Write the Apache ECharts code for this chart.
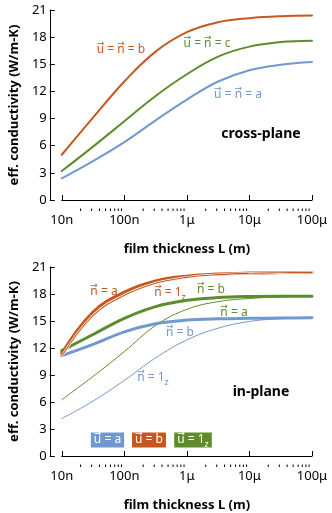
<!DOCTYPE html>
<html><head><meta charset="utf-8">
<script src="https://cdn.jsdelivr.net/npm/echarts@6/dist/echarts.min.js"></script>
<style>html,body{margin:0;padding:0;background:#fff}#c{width:332px;height:513px}</style>
</head><body><div id="c"></div>
<script>
// film thickness L (m), sampled at half decades
const thickness = [1e-8, 3.16e-8, 1e-7, 3.16e-7, 1e-6, 3.16e-6, 1e-5, 3.16e-5, 1e-4];
const xTickLabels = ['10n', '100n', '1μ', '10μ', '100μ'];
const minorTickValues = [2e-8,3e-8,4e-8,5e-8,6e-8,7e-8,8e-8,9e-8,
  2e-7,3e-7,4e-7,5e-7,6e-7,7e-7,8e-7,9e-7,
  2e-6,3e-6,4e-6,5e-6,6e-6,7e-6,8e-6,9e-6,
  2e-5,3e-5,4e-5,5e-5,6e-5,7e-5,8e-5,9e-5];

// cross-plane (u = n)
const crossB = [5.0, 9.1, 13.1, 16.4, 18.55, 19.65, 20.1, 20.32, 20.4];
const crossC = [3.2, 5.9, 8.7, 11.5, 13.9, 15.85, 16.95, 17.45, 17.6];
const crossA = [2.4, 4.3, 6.4, 8.8, 11.1, 13.1, 14.35, 14.95, 15.25];

// in-plane
const inB_nA  = [11.4, 16.0, 18.2, 19.45, 19.98, 20.22, 20.33, 20.38, 20.4];
const inB_n1z = [11.1, 15.6, 17.85, 19.2, 19.85, 20.15, 20.3, 20.36, 20.4];
const in1z_nB = [11.7, 13.5, 15.3, 16.6, 17.3, 17.6, 17.72, 17.75, 17.75];
const in1z_nA = [6.26, 8.84, 11.6, 14.5, 16.3, 17.15, 17.5, 17.68, 17.75];
const inA_nB  = [11.15, 12.4, 13.8, 14.7, 15.1, 15.25, 15.3, 15.33, 15.35];
const inA_n1z = [4.16, 6.1, 8.4, 10.9, 12.9, 14.2, 14.95, 15.25, 15.35];

const C_OR = '#c4581f', C_GR = '#5e8c2c', C_BL = '#7099d0';
const FONT = 'Noto Sans';

function pts(vals) { return thickness.map((t, i) => [t, vals[i]]); }

const gridTops = [10, 267];
const grids = gridTops.map(t => ({left: 55, right: 20, top: t, height: 190}));

const xAxes = grids.map((g, i) => ({
  type: 'log', logBase: 10, gridIndex: i, min: 1e-8, max: 1e-4, offset: 11,
  axisLine: {show: true, lineStyle: {color: '#000', width: 1}},
  axisTick: {show: true, inside: true, length: 5, lineStyle: {color: '#000'}},
  splitLine: {show: false},
  axisLabel: {color: '#000', fontSize: 13, fontFamily: FONT, margin: 3,
    formatter: v => xTickLabels[Math.round(Math.log10(v)) + 8]},
  name: 'film thickness L (m)', nameLocation: 'middle', nameGap: 32,
  nameTextStyle: {color: '#000', fontSize: 13, fontWeight: 'bold', fontFamily: FONT}
}));
const yAxes = grids.map((g, i) => ({
  type: 'value', gridIndex: i, min: 0, max: 21, interval: 3, offset: 12,
  axisLine: {show: true, lineStyle: {color: '#000', width: 1}},
  axisTick: {show: true, inside: true, length: 5, lineStyle: {color: '#000'}},
  splitLine: {show: false},
  axisLabel: {color: '#000', fontSize: 13, fontFamily: FONT, margin: 3},
  name: 'eff. conductivity (W/m-K)', nameLocation: 'middle', nameGap: 25,
  nameTextStyle: {color: '#000', fontSize: 13, fontWeight: 'bold', fontFamily: FONT}
}));

function line(idx, vals, color, width, z) {
  return {type: 'line', xAxisIndex: idx, yAxisIndex: idx, data: pts(vals), smooth: 0.4,
    showSymbol: false, silent: true, z: z || 2,
    lineStyle: {color: color, width: width, cap: 'round', join: 'round'}};
}
function minorTicks(idx) {
  return {type: 'custom', xAxisIndex: idx, yAxisIndex: idx, silent: true, clip: false,
    data: minorTickValues.map(v => [v, 0]), encode: {x: 0, y: 1},
    renderItem: (params, api) => {
      const p = api.coord([api.value(0), 0]);
      const y = p[1] + 11;
      return {type: 'line', shape: {x1: p[0], y1: y, x2: p[0], y2: y - 2.5},
        style: {stroke: '#000', lineWidth: 1}};
    }};
}

const series = [
  minorTicks(0), minorTicks(1),
  line(0, crossA, C_BL, 2), line(0, crossC, C_GR, 2), line(0, crossB, C_OR, 2),
  line(1, inA_n1z, C_BL, 1, 2), line(1, in1z_nA, C_GR, 1, 2),
  line(1, inA_nB, C_BL, 3, 3), line(1, in1z_nB, C_GR, 3, 3),
  line(1, inB_nA, C_OR, 3, 4), line(1, inB_n1z, '#ffffff', 2.4, 5), line(1, inB_n1z, C_OR, 1.1, 6)
];

// vector labels: parts = [text, kind] where kind: 'v' vector letter, 's' subscript, '' plain
const mctx = document.createElement('canvas').getContext('2d');
function measure(t, size) { mctx.font = size + 'px "' + FONT + '"'; return mctx.measureText(t).width; }
function vecLabel(cx, cy, parts, color, bg) {
  const SZ = 12, SUB = 9;
  const widths = parts.map(p => measure(p[0], p[1] === 's' ? SUB : SZ));
  const W = widths.reduce((a, b) => a + b, 0);
  let x = -W / 2;
  const children = [];
  if (bg) {
    children.push({type: 'rect', shape: {x: -W / 2 - 3, y: -7.5, width: W + 6, height: 15},
      style: {fill: bg}});
  }
  const fill = bg ? '#fff' : color;
  parts.forEach((p, i) => {
    const sub = p[1] === 's';
    children.push({type: 'text', x: x, y: sub ? 4 : 0,
      style: {text: p[0], fill: fill, font: (sub ? SUB : SZ) + 'px "' + FONT + '"',
        align: 'left', verticalAlign: 'middle'}});
    if (p[1] === 'v') {
      children.push({type: 'text', x: x + widths[i] / 2, y: -6,
        style: {text: '→', fill: fill, font: '9px "DejaVu Sans"', align: 'center',
          verticalAlign: 'middle'}});
    }
    x += widths[i];
  });
  return {type: 'group', x: cx, y: cy, z: 100, children: children};
}
function plain(cx, cy, text) {
  return {type: 'text', x: cx, y: cy, z: 100,
    style: {text: text, fill: '#000', font: 'bold 14px "' + FONT + '"', align: 'center',
      verticalAlign: 'middle'}};
}
const graphic = [
  vecLabel(121, 50, [['u','v'],[' = ',''],['n','v'],[' = b','']], C_OR),
  vecLabel(207, 44, [['u','v'],[' = ',''],['n','v'],[' = c','']], C_GR),
  vecLabel(238, 95, [['u','v'],[' = ',''],['n','v'],[' = a','']], C_BL),
  plain(261, 134, 'cross-plane'),
  vecLabel(104, 292, [['n','v'],[' = a','']], C_OR),
  vecLabel(170, 293, [['n','v'],[' = 1',''],['z','s']], C_OR),
  vecLabel(211, 290, [['n','v'],[' = b','']], C_GR),
  vecLabel(234, 313, [['n','v'],[' = a','']], C_GR),
  vecLabel(180, 333, [['n','v'],[' = b','']], C_BL),
  vecLabel(153, 378, [['n','v'],[' = 1',''],['z','s']], C_BL),
  plain(261, 392, 'in-plane'),
  vecLabel(107.5, 440, [['u','v'],[' = a','']], null, C_BL),
  vecLabel(149, 440, [['u','v'],[' = b','']], null, C_OR),
  vecLabel(193, 440, [['u','v'],[' = 1',''],['z','s']], null, C_GR)
];

const chart = echarts.init(document.getElementById('c'), null, {renderer: 'canvas'});
chart.setOption({
  animation: false, backgroundColor: '#fff',
  grid: grids, xAxis: xAxes, yAxis: yAxes, series: series, graphic: graphic
});
</script></body></html>
